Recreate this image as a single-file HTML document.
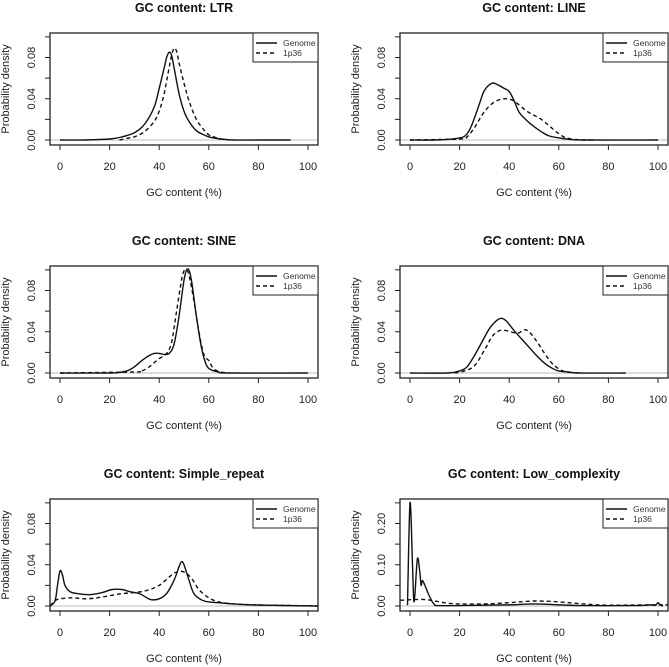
<!DOCTYPE html>
<html><head><meta charset="utf-8">
<style>
html,body{margin:0;padding:0;background:#fff;}
svg{display:block;font-family:"Liberation Sans",Arial,sans-serif;}
</style></head>
<body>
<svg id="chart" width="669" height="667" viewBox="0 0 669 667" xmlns="http://www.w3.org/2000/svg"></svg>
<script>
// ---- data ----
const xTicks = [0, 20, 40, 60, 80, 100];
const titles = ["LTR", "LINE", "SINE", "DNA", "Simple_repeat", "Low_complexity"];

const ltrGenomeX = [0,10,20,25,30,34,38,40,42,43,44,45,46,48,50,52,55,58,60,62,65,70,80,93];
const ltrGenomeY = [0,0,0.001,0.003,0.007,0.015,0.032,0.05,0.07,0.08,0.085,0.082,0.07,0.045,0.028,0.018,0.009,0.005,0.003,0.002,0.001,0,0,0];
const ltr1p36X = [24,28,30,34,38,40,42,44,45,46,47,48,50,52,55,58,60,62,65,68];
const ltr1p36Y = [0,0.002,0.003,0.008,0.018,0.028,0.045,0.07,0.082,0.089,0.086,0.075,0.055,0.038,0.02,0.01,0.005,0.003,0.001,0];

const lineGenomeX = [0,10,20,23,25,28,30,33,35,38,40,42,44,47,50,53,56,60,65,70,100];
const lineGenomeY = [0,0,0.002,0.006,0.015,0.035,0.048,0.055,0.054,0.05,0.047,0.038,0.027,0.019,0.013,0.008,0.004,0.002,0.0005,0,0];
const line1p36X = [0,20,23,26,29,32,35,38,41,44,47,50,53,56,59,62,65,70,74];
const line1p36Y = [0,0.001,0.003,0.012,0.024,0.033,0.038,0.04,0.039,0.034,0.028,0.024,0.02,0.014,0.008,0.003,0.001,0,0];

const sineGenomeX = [0,20,25,28,30,33,36,38,40,42,44,46,48,50,51.5,53,55,57,59,61,64,68,100];
const sineGenomeY = [0,0,0.001,0.003,0.006,0.012,0.017,0.019,0.019,0.018,0.019,0.028,0.055,0.09,0.101,0.09,0.055,0.025,0.008,0.003,0.001,0,0];
const sine1p36X = [0,30,33,36,38,40,43,45,47,49,50,51,52,54,56,58,60,62,65,68];
const sine1p36Y = [0,0.001,0.002,0.006,0.01,0.014,0.019,0.03,0.06,0.09,0.099,0.1,0.095,0.07,0.04,0.018,0.012,0.004,0.001,0];

const dnaGenomeX = [0,15,20,23,26,29,32,35,37,39,42,45,48,51,54,57,60,64,68,87];
const dnaGenomeY = [0,0,0.002,0.006,0.017,0.03,0.043,0.051,0.053,0.05,0.041,0.033,0.025,0.017,0.01,0.005,0.002,0.001,0,0];
const dna1p36X = [18,22,26,30,33,36,39,42,44,46,48,51,54,57,60,63,68];
const dna1p36Y = [0,0.002,0.007,0.022,0.035,0.041,0.041,0.039,0.039,0.042,0.04,0.031,0.02,0.01,0.004,0.001,0];

const srGenomeX = [-4,-2,-1,0,1,2,4,7,12,17,21,25,28,32,35,37,40,43,46,48,49,50,52,54,57,60,65,70,80,90,104];
const srGenomeY = [0,0.005,0.02,0.034,0.03,0.02,0.014,0.012,0.011,0.013,0.016,0.016,0.014,0.012,0.008,0.006,0.007,0.012,0.025,0.038,0.043,0.04,0.025,0.012,0.006,0.004,0.003,0.002,0.001,0.0005,0];
const sr1p36X = [-4,-2,0,5,10,15,20,25,30,35,40,44,47,50,53,56,60,64,70,80,104];
const sr1p36Y = [0,0.005,0.007,0.008,0.007,0.008,0.01,0.012,0.013,0.015,0.02,0.028,0.033,0.033,0.027,0.016,0.008,0.004,0.002,0.001,0];

const lcGenomeX = [-1,0,1,1.5,2,3,4,4.5,5,6,7,8,9,10,11,20,40,50,60,70,90,95,97,99,100,101,102];
const lcGenomeY = [0.002,0.25,0.1,0.015,0.03,0.115,0.08,0.05,0.062,0.05,0.035,0.022,0.01,0.003,0.001,0.001,0.003,0.005,0.003,0.001,0.001,0.002,0.003,0.002,0.008,0.002,0];
const lc1p36X = [-4,5,10,15,20,30,40,50,60,70,80,100,104];
const lc1p36Y = [0.014,0.016,0.012,0.007,0.005,0.005,0.008,0.012,0.01,0.005,0.002,0.003,0.003];

const yTicksA = [0,0.02,0.04,0.06,0.08,0.10];
const yLabelsA = ["0.00","0.04","0.08"];
const yTicksB = [0,0.05,0.10,0.15,0.20,0.25];
const yLabelsB = ["0.00","0.10","0.20"];

// ---- layout ----
const NS = "http://www.w3.org/2000/svg";
const svg = document.getElementById('chart');
function mk(tag, attrs, parent) {
  const e = document.createElementNS(NS, tag);
  for (const k in attrs) e.setAttribute(k, attrs[k]);
  (parent || svg).appendChild(e);
  return e;
}
function smoothPath(P) {
  let d = 'M' + P[0][0].toFixed(1) + ',' + P[0][1].toFixed(1);
  for (let i = 0; i < P.length - 1; i++) {
    const p0 = P[i-1] || P[i], p1 = P[i], p2 = P[i+1], p3 = P[i+2] || P[i+1];
    const c1x = p1[0] + (p2[0]-p0[0])/6, c1y = p1[1] + (p2[1]-p0[1])/6;
    const c2x = p2[0] - (p3[0]-p1[0])/6, c2y = p2[1] - (p3[1]-p1[1])/6;
    d += ' C' + c1x.toFixed(1) + ',' + c1y.toFixed(1) + ' ' + c2x.toFixed(1) + ',' + c2y.toFixed(1) + ' ' + p2[0].toFixed(1) + ',' + p2[1].toFixed(1);
  }
  return d;
}
const panels = [
  {col:0,row:0,gx:ltrGenomeX,gy:ltrGenomeY,px:ltr1p36X,py:ltr1p36Y,big:false,ticks:yTicksA,labels:yLabelsA},
  {col:1,row:0,gx:lineGenomeX,gy:lineGenomeY,px:line1p36X,py:line1p36Y,big:false,ticks:yTicksA,labels:yLabelsA},
  {col:0,row:1,gx:sineGenomeX,gy:sineGenomeY,px:sine1p36X,py:sine1p36Y,big:false,ticks:yTicksA,labels:yLabelsA},
  {col:1,row:1,gx:dnaGenomeX,gy:dnaGenomeY,px:dna1p36X,py:dna1p36Y,big:false,ticks:yTicksA,labels:yLabelsA},
  {col:0,row:2,gx:srGenomeX,gy:srGenomeY,px:sr1p36X,py:sr1p36Y,big:false,ticks:yTicksA,labels:yLabelsA},
  {col:1,row:2,gx:lcGenomeX,gy:lcGenomeY,px:lc1p36X,py:lc1p36Y,big:true,ticks:yTicksB,labels:yLabelsB}
];

panels.forEach((p, i) => {
  const L = p.col ? 400 : 50, R = L + 268;
  const T = 33 + p.row * 233, B = T + 112;
  const y0 = T + 107;
  const ky = 82.5 / 0.08 * (p.big ? 0.4 : 1);
  const x0 = L + 10, kx = 248 / 100;
  const X = v => x0 + v * kx;
  const Y = v => y0 - v * ky;
  const g = mk('g', {});
  
  

  const t = mk('text', {x:(L+R)/2, y:T-21, 'text-anchor':'middle', 'font-size':'12.5', 'font-weight':'bold', fill:'#111'}, g);
  t.textContent = 'GC content: ' + titles[i];
  
  

  const z = mk('line', {x1:L, x2:R, y1:Y(0), y2:Y(0), stroke:'#bbb', 'stroke-width':1}, g);
  
  

  const pts = (xs, ys) => xs.map((x, j) => [X(x), Y(ys[j])]);
  const gl = mk('path', {d:smoothPath(pts(p.gx,p.gy)), fill:'none', stroke:'#111', 'stroke-width':1.4, 'stroke-linejoin':'round'}, g);
  
  
  const dl = mk('path', {d:smoothPath(pts(p.px,p.py)), fill:'none', stroke:'#111', 'stroke-width':1.4, 'stroke-dasharray':'4,3', 'stroke-linejoin':'round'}, g);
  
  

  const bx = mk('rect', {x:L, y:T, width:R-L, height:B-T, fill:'none', stroke:'#222', 'stroke-width':1.3}, g);
  
  

  const xa = mk('g', {}, g);
  
  
  mk('line', {x1:X(0), x2:X(100), y1:B, y2:B, stroke:'#222'}, xa);
  xTicks.forEach(v => {
    mk('line', {x1:X(v), x2:X(v), y1:B, y2:B+5, stroke:'#222'}, xa);
    const tl = mk('text', {x:X(v), y:B+25, 'text-anchor':'middle', 'font-size':'11', fill:'#222'}, xa);
    tl.textContent = v;
    
    
  });
  const xt = mk('text', {x:X(50), y:B+51, 'text-anchor':'middle', 'font-size':'11', fill:'#222'}, g);
  xt.textContent = 'GC content (%)';
  
  

  const ya = mk('g', {}, g);
  
  
  const yTop = p.ticks[p.ticks.length-1];
  mk('line', {x1:L, x2:L, y1:Y(0), y2:Y(yTop), stroke:'#222'}, ya);
  p.ticks.forEach(v => mk('line', {x1:L-5, x2:L, y1:Y(v), y2:Y(v), stroke:'#222'}, ya));
  p.labels.forEach(s => {
    const v = parseFloat(s);
    const yl = mk('text', {x:0, y:0, 'text-anchor':'middle', 'font-size':'11', fill:'#222',
      transform:'translate(' + (L-15) + ',' + Y(v) + ') rotate(-90)'}, ya);
    yl.textContent = s;
    
    
  });
  const yt = mk('text', {x:0, y:0, 'text-anchor':'middle', 'font-size':'11', fill:'#222',
    transform:'translate(' + (L-41) + ',' + ((T+B)/2) + ') rotate(-90)'}, g);
  yt.textContent = 'Probability density';
  
  

  const lg = mk('g', {}, g);
  
  
  const lx = R - 65;
  mk('rect', {x:lx, y:T, width:65, height:29, fill:'#fff', stroke:'#222', 'stroke-width':1}, lg);
  mk('line', {x1:lx+3, x2:lx+24, y1:T+10, y2:T+10, stroke:'#111', 'stroke-width':1.4}, lg);
  mk('line', {x1:lx+3, x2:lx+24, y1:T+20, y2:T+20, stroke:'#111', 'stroke-width':1.4, 'stroke-dasharray':'4,3'}, lg);
  const e1 = mk('text', {x:lx+30, y:T+13, 'font-size':'8.5', fill:'#333'}, lg);
  e1.textContent = 'Genome';
  
  
  const e2 = mk('text', {x:lx+30, y:T+23, 'font-size':'8.5', fill:'#333'}, lg);
  e2.textContent = '1p36';
  
  
});
</script>
</body></html>
